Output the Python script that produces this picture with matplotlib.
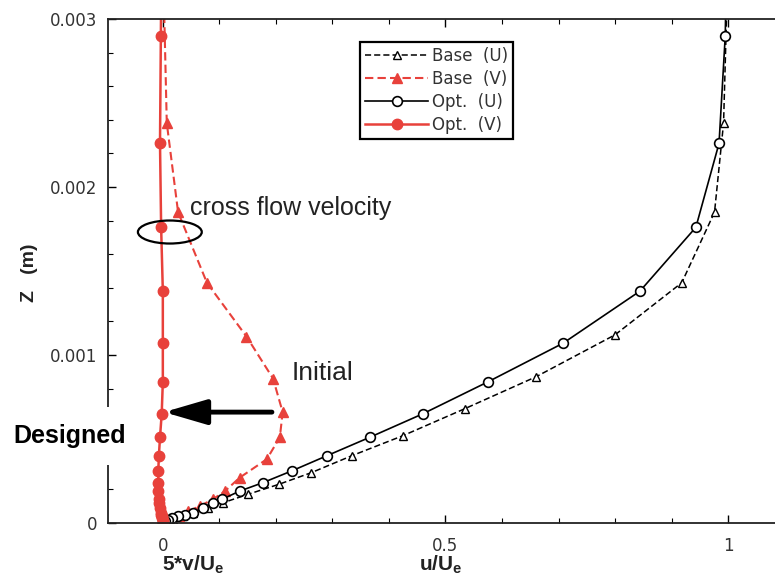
import matplotlib
matplotlib.use("Agg")
import matplotlib.pyplot as plt
from matplotlib.patches import Ellipse

plt.rcParams['font.family'] = ['Liberation Sans', 'DejaVu Sans']
plt.rcParams['mathtext.fontset'] = 'custom'
plt.rcParams['mathtext.bf'] = 'Liberation Sans:bold'
plt.rcParams['mathtext.rm'] = 'Liberation Sans'

red = '#e8413b'

# base grid (triangles)
z_base = [0.0031, 0.00238, 0.00185, 0.00143, 0.00112, 0.00087, 0.00068, 0.00052,
          0.0004, 0.0003, 0.00023, 0.00017, 0.00012, 0.00009, 0.00006, 0.00004, 0.00002, 0.0]
u_base = [0.998, 0.992, 0.976, 0.918, 0.80, 0.66, 0.534, 0.425,
          0.334, 0.263, 0.205, 0.15, 0.106, 0.08, 0.053, 0.035, 0.018, 0.0]
zv_base = [0.0031, 0.00238, 0.00185, 0.00143, 0.00111, 0.00086, 0.00066, 0.00051,
           0.00038, 0.00027, 0.00019, 0.00014, 0.0001, 0.00007, 0.00004, 0.00002, 0.0]
v_base = [0.002, 0.007, 0.027, 0.078, 0.148, 0.195, 0.212, 0.207,
          0.184, 0.136, 0.11, 0.088, 0.065, 0.045, 0.028, 0.012, 0.0]

# optimized grid (circles)
z_opt = [0.0031, 0.0029, 0.00226, 0.00176, 0.00138, 0.00107, 0.00084, 0.00065, 0.00051,
         0.0004, 0.00031, 0.00024, 0.00019, 0.00014, 0.00012, 0.00009, 0.00006,
         0.00005, 0.00004, 0.00003, 0.00002, 0.00001, 0.0]
u_opt = [0.996, 0.995, 0.984, 0.943, 0.844, 0.708, 0.575, 0.46, 0.366,
         0.29, 0.228, 0.177, 0.136, 0.104, 0.088, 0.071, 0.053,
         0.039, 0.027, 0.016, 0.009, 0.004, 0.0]
v_opt = [-0.003, -0.0035, -0.005, -0.003, 0.0, 0.0, 0.0, -0.002, -0.005,
         -0.007, -0.008, -0.008, -0.008, -0.007, -0.006, -0.005, -0.004,
         -0.003, -0.002, -0.001, 0.0, 0.0, 0.0]

fig = plt.figure(figsize=(7.75, 5.82), dpi=100)
ax = fig.add_axes([108/775, 1-523/582, 1-108/775, (523-19)/582])

ax.plot(u_base, z_base, color='black', ls=(0, (4, 2)), lw=1.1, marker='^', ms=6,
        mfc='white', mec='black', mew=1.0, label='Base  (U)')
ax.plot(v_base, zv_base, color=red, ls=(0, (4, 2)), lw=1.5, marker='^', ms=6.5,
        mfc=red, mec=red, label='Base  (V)')
ax.plot(u_opt, z_opt, color='black', lw=1.2, marker='o', ms=7,
        mfc='white', mec='black', mew=1.2, label='Opt.  (U)')
ax.plot(v_opt, z_opt, color=red, lw=1.8, marker='o', ms=7.5,
        mfc=red, mec=red, label='Opt.  (V)')

ax.set_xlim(-0.097, 1.083)
ax.set_ylim(0, 0.003)
ax.set_xticks([0, 0.5, 1])
ax.set_xticklabels(['0', '0.5', '1'])
ax.set_xticks([0.1, 0.2, 0.3, 0.4, 0.6, 0.7, 0.8, 0.9], minor=True)
ax.set_yticks([0, 0.001, 0.002, 0.003])
ax.set_yticklabels(['0', '0.001', '0.002', '0.003'])
ax.set_yticks([0.0002, 0.0004, 0.0006, 0.0008, 0.0012, 0.0014, 0.0016, 0.0018,
               0.0022, 0.0024, 0.0026, 0.0028], minor=True)
ax.tick_params(which='both', direction='in', top=True, right=False,
               labelsize=12, labelcolor='#333333', labelfontfamily='DejaVu Sans')
ax.tick_params(which='major', length=6, width=1)
ax.tick_params(which='minor', length=3.5, width=0.8)
ax.tick_params(axis='x', pad=10)
ax.tick_params(axis='y', pad=8)
ax.spines['right'].set_visible(False)
for s in ['left', 'bottom', 'top']:
    ax.spines[s].set_linewidth(1.3)
    ax.spines[s].set_color('#222222')

leg = ax.legend(loc='upper left', bbox_to_anchor=(0.378, 0.955), fancybox=False,
                edgecolor='black', framealpha=1, handlelength=3.8, handletextpad=0.2,
                borderpad=0.3, labelspacing=0.3, borderaxespad=0,
                prop={'family': 'DejaVu Sans', 'size': 12})
leg.get_frame().set_linewidth(1.6)
for t in leg.get_texts():
    t.set_color('#333333')

# annotations
ax.add_patch(Ellipse((0.0124, 0.001732), 0.113, 0.000137, fill=False,
                     edgecolor='black', lw=1.6, zorder=6))
ax.text(0.048, 0.001875, 'cross flow velocity', fontsize=18, color='#222222',
        va='center', ha='left')
ax.text(0.228, 0.000893, 'Initial', fontsize=19, color='#222222',
        va='center', ha='left')
ax.annotate('', xy=(0.002, 0.00066), xytext=(0.193, 0.00066),
            arrowprops=dict(arrowstyle='-|>,head_length=1.3,head_width=0.38',
                            lw=3.5, color='black', shrinkA=0, shrinkB=0,
                            mutation_scale=20), zorder=7)
ax.text(-0.265, 0.000518, 'Designed', fontsize=18, fontweight='bold',
        va='center', ha='left', clip_on=False, zorder=8,
        bbox=dict(fc='white', ec='none', pad=12))

fig.text(30/775, 1-273/582, 'Z   (m)', rotation=90, fontsize=14,
         fontweight='bold', ha='center', va='center', color='#222222')
fig.text(193/775, 1-565/582, r'$\mathbf{5{*}v/U_e}$', fontsize=15,
         ha='center', va='center', color='#222222')
fig.text(441/775, 1-565/582, r'$\mathbf{u/U_e}$', fontsize=15,
         ha='center', va='center', color='#222222')

fig.savefig('out.png', dpi=100)
